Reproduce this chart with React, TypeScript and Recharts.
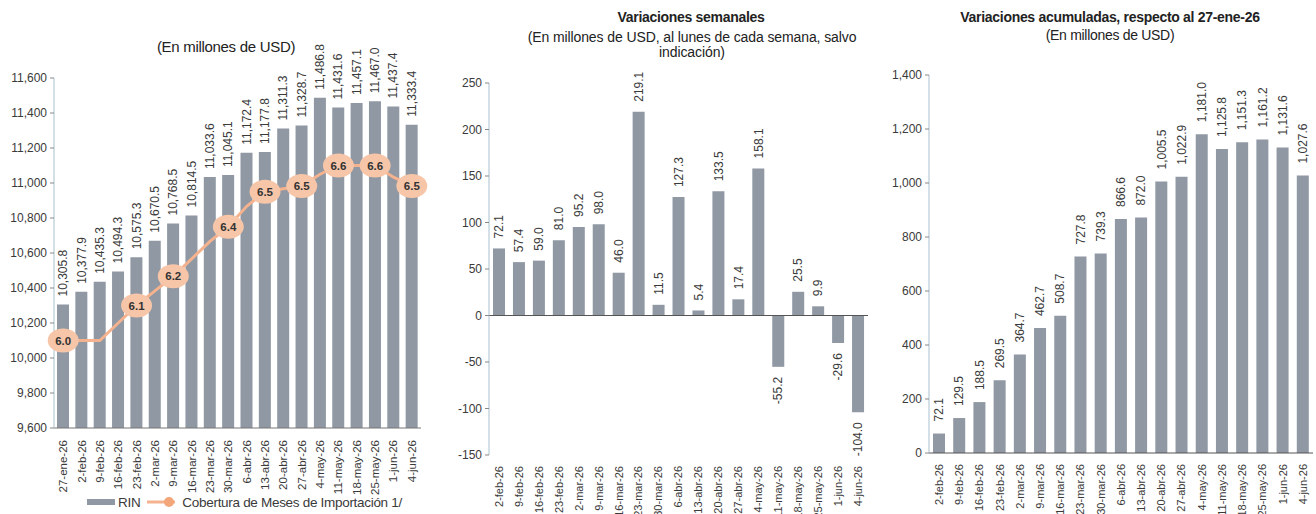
import React from 'react';
import {
  ComposedChart,
  BarChart,
  Bar,
  Line,
  XAxis,
  YAxis,
  ReferenceLine,
  LabelList,
} from 'recharts';

// Fechas (semanas)
const rinDates = [
  '27-ene-26', '2-feb-26', '9-feb-26', '16-feb-26', '23-feb-26', '2-mar-26',
  '9-mar-26', '16-mar-26', '23-mar-26', '30-mar-26', '6-abr-26', '13-abr-26',
  '20-abr-26', '27-abr-26', '4-may-26', '11-may-26', '18-may-26', '25-may-26',
  '1-jun-26', '4-jun-26',
];
const weekDates = rinDates.slice(1);

// RIN en millones de USD
const rinValues = [
  10305.8, 10377.9, 10435.3, 10494.3, 10575.3, 10670.5, 10768.5, 10814.5,
  11033.6, 11045.1, 11172.4, 11177.8, 11311.3, 11328.7, 11486.8, 11431.6,
  11457.1, 11467.0, 11437.4, 11333.4,
];

// Cobertura de meses de importacion (linea)
const coverageValues = [
  6.0, 6.0, 6.0, 6.06, 6.12, 6.17, 6.22, 6.28, 6.34, 6.39, 6.46, 6.51,
  6.52, 6.53, 6.57, 6.6, 6.6, 6.6, 6.56, 6.53,
];
const coverageLabels = [
  '6.0', '', '', '', '6.1', '', '6.2', '', '', '6.4', '', '6.5',
  '', '6.5', '', '6.6', '', '6.6', '', '6.5',
];

const weeklyChange = [
  72.1, 57.4, 59.0, 81.0, 95.2, 98.0, 46.0, 219.1, 11.5, 127.3, 5.4, 133.5,
  17.4, 158.1, -55.2, 25.5, 9.9, -29.6, -104.0,
];

const cumulativeChange = [
  72.1, 129.5, 188.5, 269.5, 364.7, 462.7, 508.7, 727.8, 739.3, 866.6, 872.0,
  1005.5, 1022.9, 1181.0, 1125.8, 1151.3, 1161.2, 1131.6, 1027.6,
];

const rinTicks = [9600, 9800, 10000, 10200, 10400, 10600, 10800, 11000, 11200, 11400, 11600];
const weeklyTicks = [-150, -100, -50, 0, 50, 100, 150, 200, 250];
const cumulativeTicks = [0, 200, 400, 600, 800, 1000, 1200, 1400];

const rinData = rinDates.map((date, i) => ({
  date,
  rin: rinValues[i],
  cobertura: coverageValues[i],
}));
const weeklyData = weekDates.map((date, i) => ({ date, value: weeklyChange[i] }));
const cumulativeData = weekDates.map((date, i) => ({ date, value: cumulativeChange[i] }));

const FONT = '"Liberation Sans", Arial, sans-serif';
const BAR = '#8f98a3';
const AXIS_BLUE = '#a9c0ce';
const TEXT = '#3a3a3a';

const fmt = (v: number) =>
  v.toLocaleString('en-US', { minimumFractionDigits: 1, maximumFractionDigits: 1 });
const fmtTick = (v: number) => v.toLocaleString('en-US');

const makeTick = (size: number, offset: number) => (props: any) => {
  const { x, y, payload } = props;
  const ty = y + offset;
  return (
    <text
      x={x}
      y={ty}
      transform={`rotate(-90 ${x} ${ty})`}
      textAnchor="end"
      dy="0.35em"
      fontSize={size}
      fontFamily={FONT}
      fill={TEXT}
    >
      {payload.value}
    </text>
  );
};
const LeftTick = makeTick(11.5, 4);
const SmallTick = makeTick(11, 3);

const makeBarLabel = (gap: number) => (props: any) => {
  const { x, y, width, height, value } = props;
  const top = Math.min(y, y + height);
  const bottom = Math.max(y, y + height);
  const cx = x + width / 2;
  const neg = value < 0;
  const ay = neg ? bottom + gap : top - gap;
  return (
    <text
      x={cx}
      y={ay}
      transform={`rotate(-90 ${cx} ${ay})`}
      textAnchor={neg ? 'end' : 'start'}
      dy="0.35em"
      fontSize={12}
      fontFamily={FONT}
      fill={TEXT}
    >
      {fmt(value)}
    </text>
  );
};

const CoverageDot = (props: any) => {
  const { cx, cy, index } = props;
  const label = coverageLabels[index];
  if (!label) return <g key={`d${index}`} />;
  return (
    <g key={`d${index}`}>
      <ellipse cx={cx} cy={cy} rx={15.5} ry={12} fill="#f7c6a9" />
      <text
        x={cx}
        y={cy}
        dy="0.35em"
        textAnchor="middle"
        fontSize={11.5}
        fontWeight="bold"
        fontFamily={FONT}
        fill="#333"
      >
        {label}
      </text>
    </g>
  );
};

const yTickStyle = { fontSize: 12, fontFamily: FONT, fill: TEXT };

const titleBase: React.CSSProperties = {
  position: 'absolute',
  textAlign: 'center',
  fontFamily: FONT,
  color: '#222',
  fontSize: 14,
  letterSpacing: -0.3,
  lineHeight: '15px',
  whiteSpace: 'nowrap',
};

export default function App() {
  return (
    <div
      style={{
        position: 'absolute',
        left: 0,
        top: 0,
        width: 1316,
        height: 514,
        background: '#fff',
        overflow: 'hidden',
      }}
    >
      {/* Panel 1: RIN */}
      <div style={{ ...titleBase, left: 0, top: 39, width: 452, fontSize: 15 }}>
        (En millones de USD)
      </div>
      <div style={{ position: 'absolute', left: 0, top: 0 }}>
        <ComposedChart
          width={440}
          height={514}
          data={rinData}
          margin={{ top: 78, right: 19, bottom: 0, left: 0 }}
          barCategoryGap={0}
        >
          <XAxis
            dataKey="date"
            interval={0}
            height={86}
            tick={LeftTick}
            tickLine={false}
            axisLine={{ stroke: '#777' }}
          />
          <YAxis
            yAxisId="left"
            width={54}
            domain={[9600, 11600]}
            ticks={rinTicks}
            tickFormatter={fmtTick}
            tick={yTickStyle}
            tickSize={4}
            tickMargin={3}
            axisLine={{ stroke: AXIS_BLUE }}
            tickLine={{ stroke: '#888' }}
            allowDataOverflow
          />
          <YAxis yAxisId="right" orientation="right" hide domain={[5.7, 6.9]} />
          <Bar yAxisId="left" dataKey="rin" fill={BAR} barSize={12} isAnimationActive={false}>
            <LabelList dataKey="rin" content={makeBarLabel(8)} />
          </Bar>
          <Line
            yAxisId="right"
            dataKey="cobertura"
            stroke="#f4b28e"
            strokeWidth={3}
            dot={CoverageDot}
            activeDot={false}
            isAnimationActive={false}
          />
        </ComposedChart>
      </div>
      {/* Leyenda panel 1 */}
      <div
        style={{
          position: 'absolute',
          left: 86,
          top: 494,
          display: 'flex',
          alignItems: 'center',
          fontFamily: FONT,
          fontSize: 13.5,
          letterSpacing: -0.3,
          color: TEXT,
          whiteSpace: 'nowrap',
        }}
      >
        <svg width={30} height={16}>
          <rect x={1} y={5} width={28} height={6} fill={BAR} />
        </svg>
        <span style={{ marginLeft: 2 }}>RIN</span>
        <svg width={36} height={16} style={{ marginLeft: 5 }}>
          <line x1={2} y1={8} x2={30} y2={8} stroke="#f4b28e" strokeWidth={3} />
          <circle cx={24} cy={8} r={5} fill="#f3a679" />
        </svg>
        <span style={{ marginLeft: 1 }}>Cobertura de Meses de Importación 1/</span>
      </div>

      {/* Panel 2: Variaciones semanales */}
      <div style={{ ...titleBase, left: 440, top: 10, width: 502, fontWeight: 'bold' }}>
        Variaciones semanales
      </div>
      <div style={{ ...titleBase, left: 440, top: 30, width: 504, letterSpacing: -0.1 }}>
        (En millones de USD, al lunes de cada semana, salvo
        <br />
        indicación)
      </div>
      <div style={{ position: 'absolute', left: 440, top: 0 }}>
        <BarChart
          width={440}
          height={514}
          data={weeklyData}
          margin={{ top: 83, right: 12, bottom: 0, left: 0 }}
          barCategoryGap={0}
        >
          <XAxis
            dataKey="date"
            interval={0}
            height={59}
            tick={SmallTick}
            tickLine={false}
            axisLine={false}
          />
          <YAxis
            width={49}
            domain={[-150, 250]}
            ticks={weeklyTicks}
            tick={yTickStyle}
            tickSize={4}
            tickMargin={3}
            axisLine={{ stroke: AXIS_BLUE }}
            tickLine={{ stroke: '#888' }}
          />
          <ReferenceLine y={0} stroke="#555" />
          <Bar dataKey="value" fill={BAR} barSize={12} isAnimationActive={false}>
            <LabelList dataKey="value" content={makeBarLabel(10)} />
          </Bar>
        </BarChart>
      </div>

      {/* Panel 3: Variaciones acumuladas */}
      <div style={{ ...titleBase, left: 880, top: 10, width: 460, fontWeight: 'bold' }}>
        Variaciones acumuladas, respecto al 27-ene-26
      </div>
      <div style={{ ...titleBase, left: 880, top: 28, width: 460 }}>(En millones de USD)</div>
      <div style={{ position: 'absolute', left: 880, top: 0 }}>
        <BarChart
          width={436}
          height={514}
          data={cumulativeData}
          margin={{ top: 75, right: 3, bottom: 0, left: 0 }}
          barCategoryGap={0}
        >
          <XAxis
            dataKey="date"
            interval={0}
            height={61}
            tick={SmallTick}
            tickLine={false}
            axisLine={{ stroke: '#555' }}
          />
          <YAxis
            width={49}
            domain={[0, 1400]}
            ticks={cumulativeTicks}
            tickFormatter={fmtTick}
            tick={yTickStyle}
            tickSize={4}
            tickMargin={3}
            axisLine={{ stroke: AXIS_BLUE }}
            tickLine={{ stroke: '#888' }}
          />
          <Bar dataKey="value" fill={BAR} barSize={12} isAnimationActive={false}>
            <LabelList dataKey="value" content={makeBarLabel(12)} />
          </Bar>
        </BarChart>
      </div>
    </div>
  );
}
